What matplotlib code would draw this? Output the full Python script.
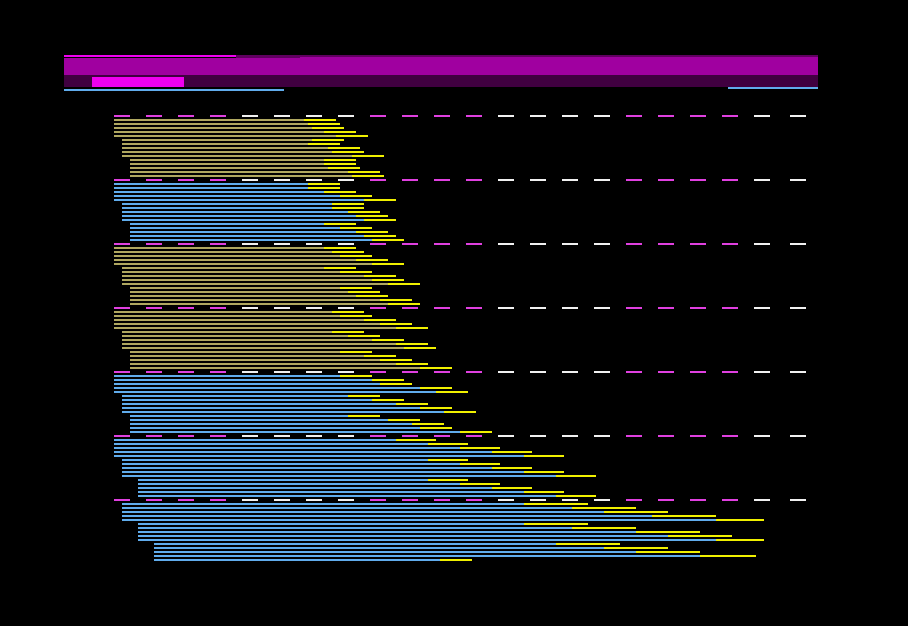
import matplotlib.pyplot as plt
from matplotlib.patches import Rectangle

# colours
TAN = "#b0a860"
BLUE = "#60acec"
YELLOW = "#f0f000"
DASH_M = "#e040e0"
DASH_W = "#f0f0f0"

# 7 groups, 15 rows each
group_colors = [TAN, BLUE, TAN, TAN, BLUE, BLUE, BLUE]
group_starts = [
    [114, 122, 130],
    [114, 122, 130],
    [114, 122, 130],
    [114, 122, 130],
    [114, 122, 130],
    [114, 122, 138],
    [122, 138, 154],
]
main_end = [
    [304, 308, 312, 324, 336, 312, 308, 328, 332, 352, 324, 324, 328, 348, 352],
    [308, 308, 324, 340, 364, 332, 332, 348, 356, 364, 324, 340, 356, 364, 372],
    [324, 332, 340, 356, 372, 324, 340, 364, 372, 388, 340, 348, 356, 380, 388],
    [332, 340, 364, 380, 396, 332, 348, 372, 396, 404, 340, 364, 380, 396, 420],
    [340, 372, 380, 420, 436, 348, 372, 396, 420, 444, 348, 388, 412, 420, 460],
    [396, 428, 460, 492, 524, 428, 460, 492, 524, 556, 428, 460, 492, 524, 556],
    [524, 572, 604, 652, 716, 524, 572, 636, 668, 716, 556, 604, 636, 700, 440],
]
total_end = [
    [336, 340, 344, 356, 368, 344, 340, 360, 364, 384, 356, 356, 360, 380, 384],
    [340, 340, 356, 372, 396, 364, 364, 380, 388, 396, 356, 372, 388, 396, 404],
    [356, 364, 372, 388, 404, 356, 372, 396, 404, 420, 372, 380, 388, 412, 420],
    [364, 372, 396, 412, 428, 364, 380, 404, 428, 436, 372, 396, 412, 428, 452],
    [372, 404, 412, 452, 468, 380, 404, 428, 452, 476, 380, 420, 444, 452, 492],
    [436, 468, 500, 532, 564, 468, 500, 532, 564, 596, 468, 500, 532, 564, 596],
    [588, 636, 668, 716, 764, 588, 636, 700, 732, 764, 620, 668, 700, 756, 472],
]

# dashed separator rows
dash_x = [114, 146, 178, 210, 242, 274, 306, 338, 370, 402, 434, 466,
          498, 530, 562, 594, 626, 658, 690, 722, 754, 790]
dash_c = ["m", "m", "m", "m", "w", "w", "w", "w", "m", "m", "m", "m",
          "w", "w", "w", "w", "m", "m", "m", "m", "w", "w"]

fig = plt.figure(figsize=(9.08, 6.26), dpi=100)
fig.patch.set_facecolor("black")
ax = fig.add_axes([0, 0, 1, 1])
ax.set_facecolor("black")
ax.set_xlim(0, 908)
ax.set_ylim(626, 0)
ax.axis("off")

# header blocks
hdr = [
    (64, 55, 172, 2, "#f000f0"),
    (236, 55, 582, 2, "#600060"),
    (236, 57, 64, 1, "#600060"),
    (64, 58, 754, 17, "#a000a0"),
    (300, 57, 518, 1, "#a000a0"),
    (64, 75, 754, 12, "#400040"),
    (92, 77, 92, 10, "#f000f0"),
    (64, 89, 220, 2, BLUE),
    (728, 87, 90, 2, BLUE),
]
for x, y, w, h, c in hdr:
    ax.add_patch(Rectangle((x, y), w, h, facecolor=c, edgecolor="none", antialiased=False))

row_step = 4
group_step = 64
top = 116

for g in range(len(group_colors)):
    y0 = top + g * group_step
    # separator
    ys = [y0] * len(dash_x)
    cols = [DASH_M if c == "m" else DASH_W for c in dash_c]
    ax.barh(ys, [16] * len(dash_x), left=dash_x, height=2, color=cols, antialiased=False)
    for i in range(15):
        y = y0 + (i + 1) * row_step
        s = group_starts[g][i // 5]
        m = main_end[g][i]
        e = total_end[g][i]
        ax.barh(y, m - s, left=s, height=2, color=group_colors[g], antialiased=False)
        ax.barh(y, e - m, left=m, height=2, color=YELLOW, antialiased=False)

fig.savefig("out.png", dpi=100, facecolor="black")
